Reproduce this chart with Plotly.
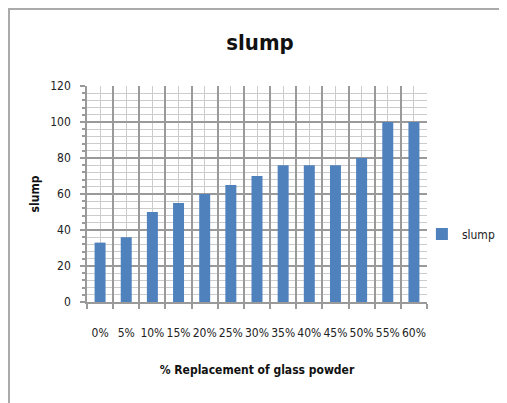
import plotly.graph_objects as go

categories = ["0%", "5%", "10%", "15%", "20%", "25%", "30%", "35%", "40%", "45%", "50%", "55%", "60%"]
slump = [33, 36, 50, 55, 60, 65, 70, 76, 76, 76, 80, 100, 100]
boundaries = [i - 0.5 for i in range(len(categories) + 1)]

FONT = "DejaVu Sans Condensed, Liberation Sans Narrow, Liberation Sans, Arial"
BAR = "#4F81BD"
MAJ = "#9a9a9a"
MIN = "#cccccc"

fig = go.Figure()
fig.add_trace(go.Bar(x=categories, y=slump, name="slump", marker=dict(color=BAR, line=dict(width=0)),
                     width=0.42, xaxis="x", yaxis="y"))
fig.add_trace(go.Scatter(x=[boundaries[0], boundaries[-1]], y=[0, 0], mode="markers",
                         marker=dict(opacity=0), showlegend=False, hoverinfo="skip",
                         xaxis="x2", yaxis="y"))

fig.update_layout(
    width=499, height=395,
    margin=dict(l=79, r=80, t=78, b=101, autoexpand=False),
    paper_bgcolor="white", plot_bgcolor="white",
    font=dict(family=FONT, size=12, color="#222"),
    title=dict(text="<b>slump</b>", x=0.505, xanchor="center", y=0.912, yanchor="middle",
               font=dict(family=FONT, size=22, color="#111")),
    xaxis=dict(type="category", range=[-0.5, len(categories) - 0.5], automargin=False,
               showgrid=True, gridcolor=MIN, gridwidth=1, ticks="", showline=False,
               tickangle=0,
               tickfont=dict(family=FONT, size=12, color="#222"), ticklabelstandoff=22,
               title=dict(text="<b>% Replacement of glass powder</b>", standoff=26,
                          font=dict(family=FONT, size=12, color="#111"))),
    xaxis2=dict(overlaying="x", anchor="y", range=[boundaries[0], boundaries[-1]],
                tickvals=boundaries, showticklabels=False, showgrid=True, gridcolor=MAJ,
                gridwidth=1.5, ticks="outside", ticklen=5, tickcolor=MAJ, tickwidth=1.5,
                showline=True, linecolor=MAJ, linewidth=1.5, zeroline=False, automargin=False),
    yaxis=dict(range=[0, 120], dtick=20, showgrid=True, gridcolor=MAJ, gridwidth=1.5,
               ticks="outside", ticklen=5, tickcolor=MAJ, tickwidth=1.5, automargin=False,
               showline=True, linecolor=MAJ, linewidth=1.5, zeroline=False,
               minor=dict(dtick=4, showgrid=True, gridcolor=MIN, gridwidth=1,
                          ticks="outside", ticklen=3, tickcolor=MAJ),
               tickfont=dict(family=FONT, size=12, color="#222"), ticklabelstandoff=7,
               title=dict(text="<b>slump</b>", standoff=8,
                          font=dict(family=FONT, size=12, color="#111"))),
    showlegend=True,
    legend=dict(x=0.985, y=0.315, xanchor="left", yanchor="middle", bgcolor="rgba(0,0,0,0)",
                font=dict(family=FONT, size=12, color="#222"), itemwidth=30),
)

fig.add_shape(type="rect", xref="paper", yref="paper", x0=-0.2294, y0=-0.6, x1=1.6, y1=1.3565,
              line=dict(color="#aaaaaa", width=2), fillcolor="rgba(0,0,0,0)", layer="below")

fig.write_html("out.html")
